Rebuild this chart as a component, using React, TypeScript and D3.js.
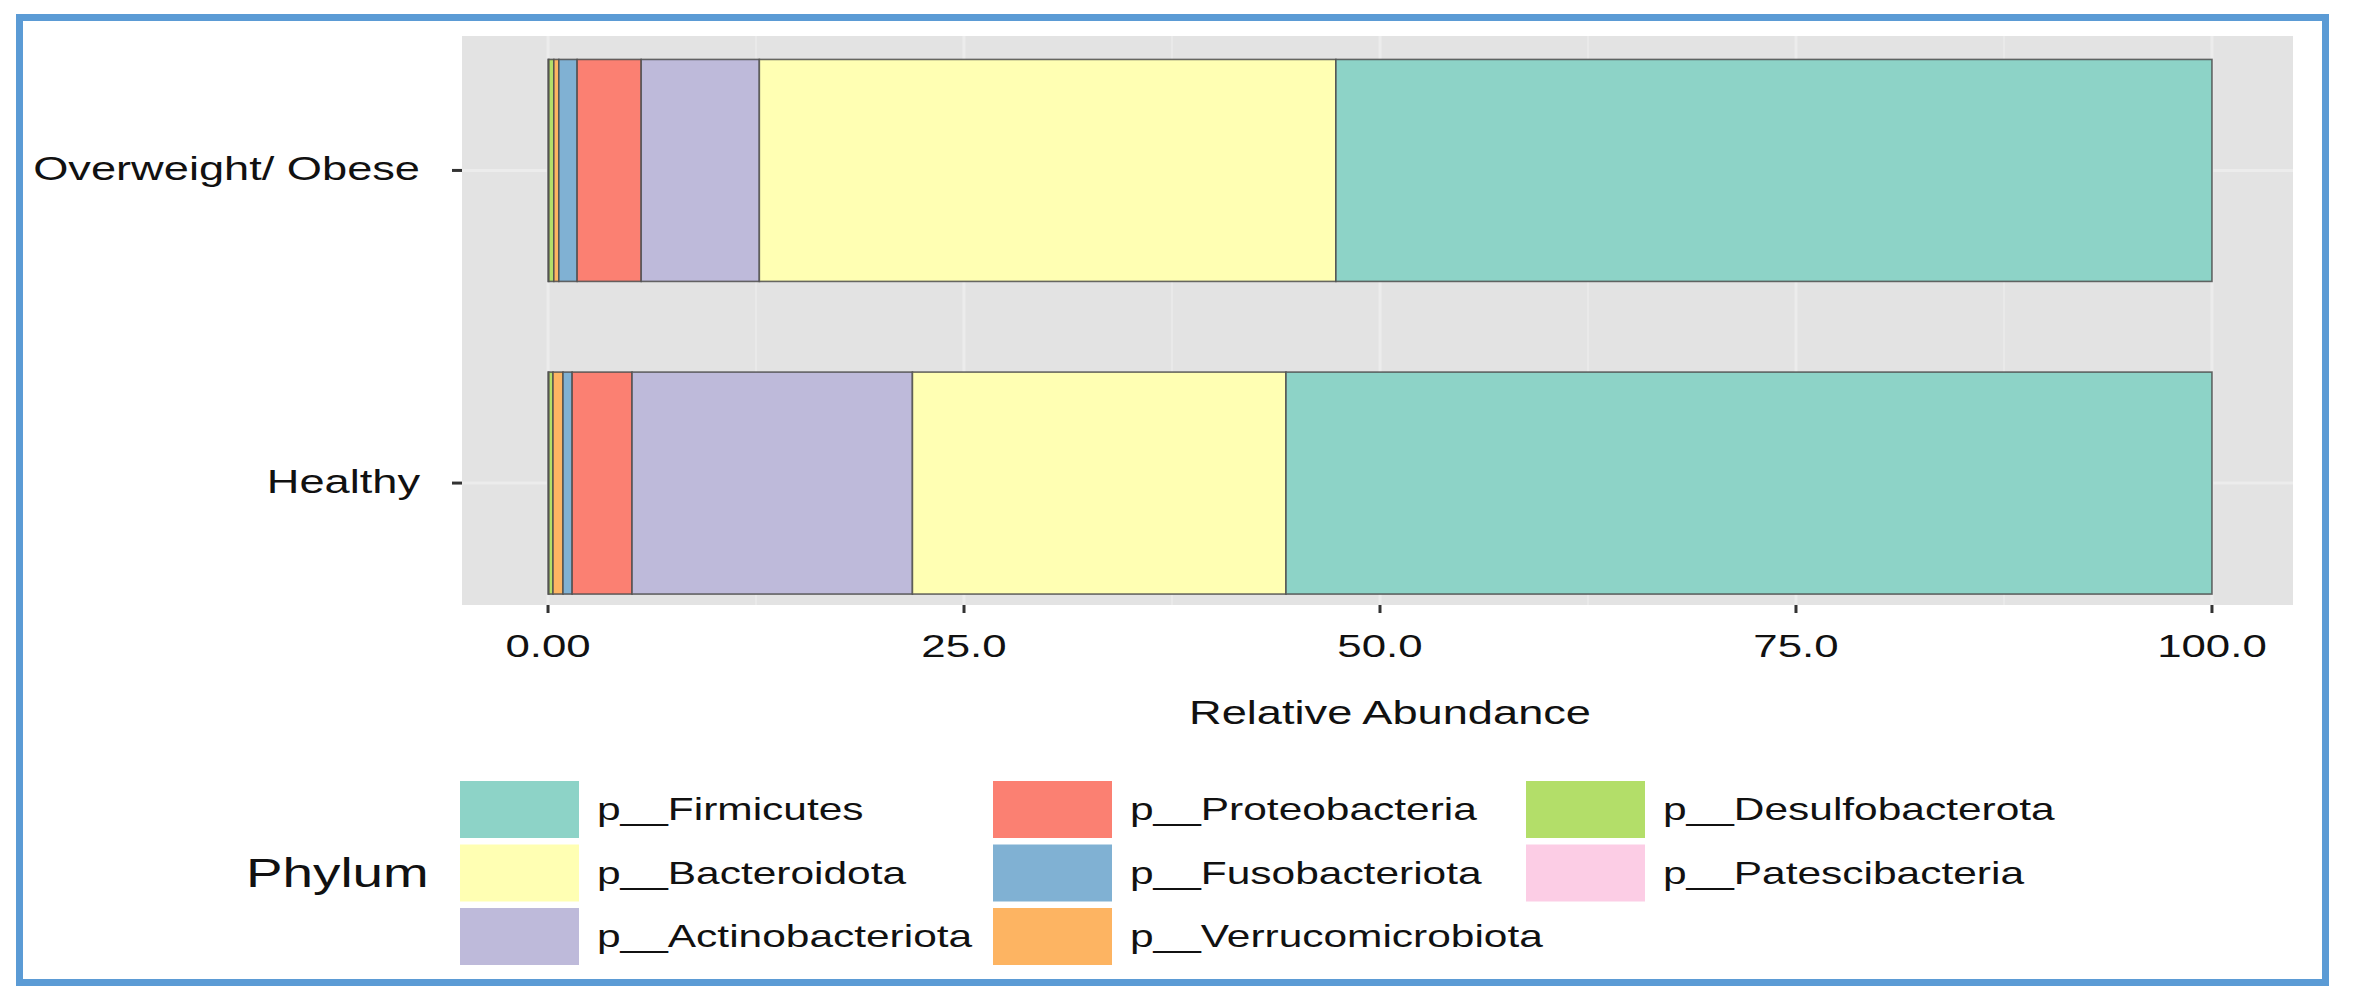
import * as d3 from "d3";

// groups, bottom to top
const groups = ["Healthy", "Overweight/ Obese"];

// legend order (also stacking order: first one sits at the right end)
const phyla = [
  "p__Firmicutes",
  "p__Bacteroidota",
  "p__Actinobacteriota",
  "p__Proteobacteria",
  "p__Fusobacteriota",
  "p__Verrucomicrobiota",
  "p__Desulfobacterota",
  "p__Patescibacteria",
];

const colors = ["#8DD3C7", "#FFFFB3", "#BEBADA", "#FB8072", "#80B1D3", "#FDB462", "#B3DE69", "#FCCDE5"];

// relative abundance (%) per phylum, same order as phyla
const healthy = [55.65, 22.45, 16.85, 3.6, 0.55, 0.6, 0.25, 0.05];
const obese = [52.65, 34.65, 7.1, 3.85, 1.1, 0.3, 0.3, 0.05];

const xTicks = [0, 25, 50, 75, 100];
const xTickLabels = ["0.00", "25.0", "50.0", "75.0", "100.0"];
const xMinor = [12.5, 37.5, 62.5, 87.5];

const W = 2353;
const H = 1004;
const SX = 1.37; // the figure is stretched sideways
const FONT = "Liberation Sans, Arial, Helvetica, sans-serif";

const panel = { left: 462, right: 2293, top: 36, bottom: 605 };

function T({ x, y, size, anchor = "start", children }: any) {
  return (
    <text
      transform={`translate(${x},${y}) scale(${SX},1)`}
      fontSize={size}
      textAnchor={anchor}
      dominantBaseline="central"
      fontFamily={FONT}
      fill="#111"
    >
      {children}
    </text>
  );
}

export default function App() {
  const x = d3.scaleLinear().domain([-5.17, 104.87]).range([panel.left, panel.right]);
  const y = d3.scaleLinear().domain([0.61, 2.43]).range([panel.bottom, panel.top]);
  const barHalf = 0.355;

  const values = [healthy, obese];

  // build stacked segments, starting from the last phylum at 0
  const segs: { g: number; i: number; x0: number; x1: number }[] = [];
  values.forEach((vals, g) => {
    let acc = 0;
    for (let i = phyla.length - 1; i >= 0; i--) {
      segs.push({ g, i, x0: acc, x1: acc + vals[i] });
      acc += vals[i];
    }
  });

  return (
    <svg width={W} height={H} style={{ position: "absolute", left: 0, top: 0, background: "#fff" }}>
      {/* outer frame */}
      <rect x={19.5} y={17.5} width={2306} height={965} fill="none" stroke="#5b9bd5" strokeWidth={7} />

      {/* panel */}
      <rect
        x={panel.left}
        y={panel.top}
        width={panel.right - panel.left}
        height={panel.bottom - panel.top}
        fill="#e3e3e3"
      />
      {xMinor.map((v) => (
        <line key={"m" + v} x1={x(v)} x2={x(v)} y1={panel.top} y2={panel.bottom} stroke="#e9e9e9" strokeWidth={2} />
      ))}
      {xTicks.map((v) => (
        <line key={"g" + v} x1={x(v)} x2={x(v)} y1={panel.top} y2={panel.bottom} stroke="#ececec" strokeWidth={3} />
      ))}
      {groups.map((g, k) => (
        <line key={"h" + g} x1={panel.left} x2={panel.right} y1={y(k + 1)} y2={y(k + 1)} stroke="#ececec" strokeWidth={3} />
      ))}

      {/* bars */}
      {segs.map((s) => (
        <rect
          key={s.g + "-" + s.i}
          x={x(s.x0)}
          y={y(s.g + 1 + barHalf)}
          width={x(s.x1) - x(s.x0)}
          height={y(s.g + 1 - barHalf) - y(s.g + 1 + barHalf)}
          fill={colors[s.i]}
          stroke="#4d4d4d"
          strokeOpacity={0.85}
          strokeWidth={1.6}
        />
      ))}

      {/* y axis */}
      {groups.map((g, k) => (
        <g key={"y" + g}>
          <line x1={panel.left - 10} x2={panel.left} y1={y(k + 1)} y2={y(k + 1)} stroke="#333" strokeWidth={3} />
          <T x={420} y={y(k + 1) - 2} size={33} anchor="end">
            {g}
          </T>
        </g>
      ))}

      {/* x axis */}
      {xTicks.map((v, k) => (
        <g key={"x" + v}>
          <line x1={x(v)} x2={x(v)} y1={panel.bottom} y2={panel.bottom + 8} stroke="#333" strokeWidth={3} />
          <T x={x(v)} y={646} size={32} anchor="middle">
            {xTickLabels[k]}
          </T>
        </g>
      ))}
      <T x={1390} y={712} size={33} anchor="middle">
        Relative Abundance
      </T>

      {/* legend */}
      <T x={246} y={873} size={40}>
        Phylum
      </T>
      {phyla.map((p, i) => {
        const col = Math.floor(i / 3);
        const row = i % 3;
        const kx = 460 + col * 533;
        const ky = 781 + row * 63.5;
        return (
          <g key={p}>
            <rect x={kx} y={ky} width={119} height={57} fill={colors[i]} />
            <T x={kx + 137} y={ky + 28.5} size={31}>
              {p}
            </T>
          </g>
        );
      })}
    </svg>
  );
}
